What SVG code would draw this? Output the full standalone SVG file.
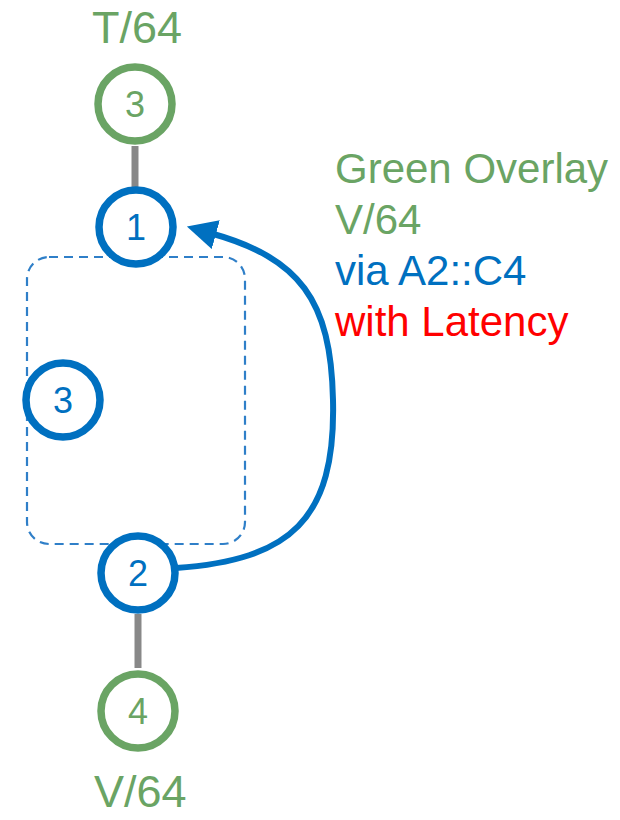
<svg xmlns="http://www.w3.org/2000/svg" width="620" height="820" viewBox="0 0 620 820">
<defs>
<style>
.g{fill:#fff;stroke:#6aa464;stroke-width:7.5}
.b{fill:#fff;stroke:#0070c0;stroke-width:7.5}
.n{font-family:"Liberation Sans",Arial,sans-serif;font-size:36px;text-anchor:middle}
.lbl{font-family:"Liberation Sans",Arial,sans-serif;font-size:42px}
.big{font-size:45px}
.tg{fill:#6aa464}
.tb{fill:#0070c0}
.tr{fill:#ff0000}
.link{stroke:#888;stroke-width:7}
</style>
<marker id="ah" viewBox="0 0 10 10" refX="2" refY="5" markerWidth="5" markerHeight="5" orient="auto" markerUnits="strokeWidth">
<path d="M0,0 L10,5 L0,10 z" fill="#0070c0"/>
</marker>
</defs>
<rect id="group" x="27" y="257" width="218" height="287" rx="22" fill="none" stroke="#2f7fc8" stroke-width="2.2" stroke-dasharray="9,6"/>
<g id="connectors">
<line class="link" x1="135" y1="146" x2="135" y2="188"/>
<line class="link" x1="138" y1="614" x2="138" y2="668"/>
<path d="M176,568 C290,560 336,520 333,400 C331,300 300,258 210,233" fill="none" stroke="#0070c0" stroke-width="6" marker-end="url(#ah)"/>
</g>
<g id="n_top3"><circle class="g" cx="135" cy="104" r="37"/><text class="n tg" x="135" y="117">3</text></g>
<g id="n1"><circle class="b" cx="136" cy="227" r="37"/><text class="n tb" x="136" y="240">1</text></g>
<g id="n3"><circle class="b" cx="63" cy="400" r="37"/><text class="n tb" x="63" y="413">3</text></g>
<g id="n2"><circle class="b" cx="138" cy="573" r="37"/><text class="n tb" x="138" y="586">2</text></g>
<g id="n4"><circle class="g" cx="138" cy="711" r="37"/><text class="n tg" x="138" y="724">4</text></g>
<text class="lbl big tg" x="92" y="43">T/64</text>
<text class="lbl big tg" x="94" y="807">V/64</text>
<text class="lbl tg" x="335" y="183">Green Overlay</text>
<text class="lbl tg" x="335" y="234">V/64</text>
<text class="lbl tb" x="335" y="285">via A2::C4</text>
<text class="lbl tr" x="335" y="336">with Latency</text>
</svg>
